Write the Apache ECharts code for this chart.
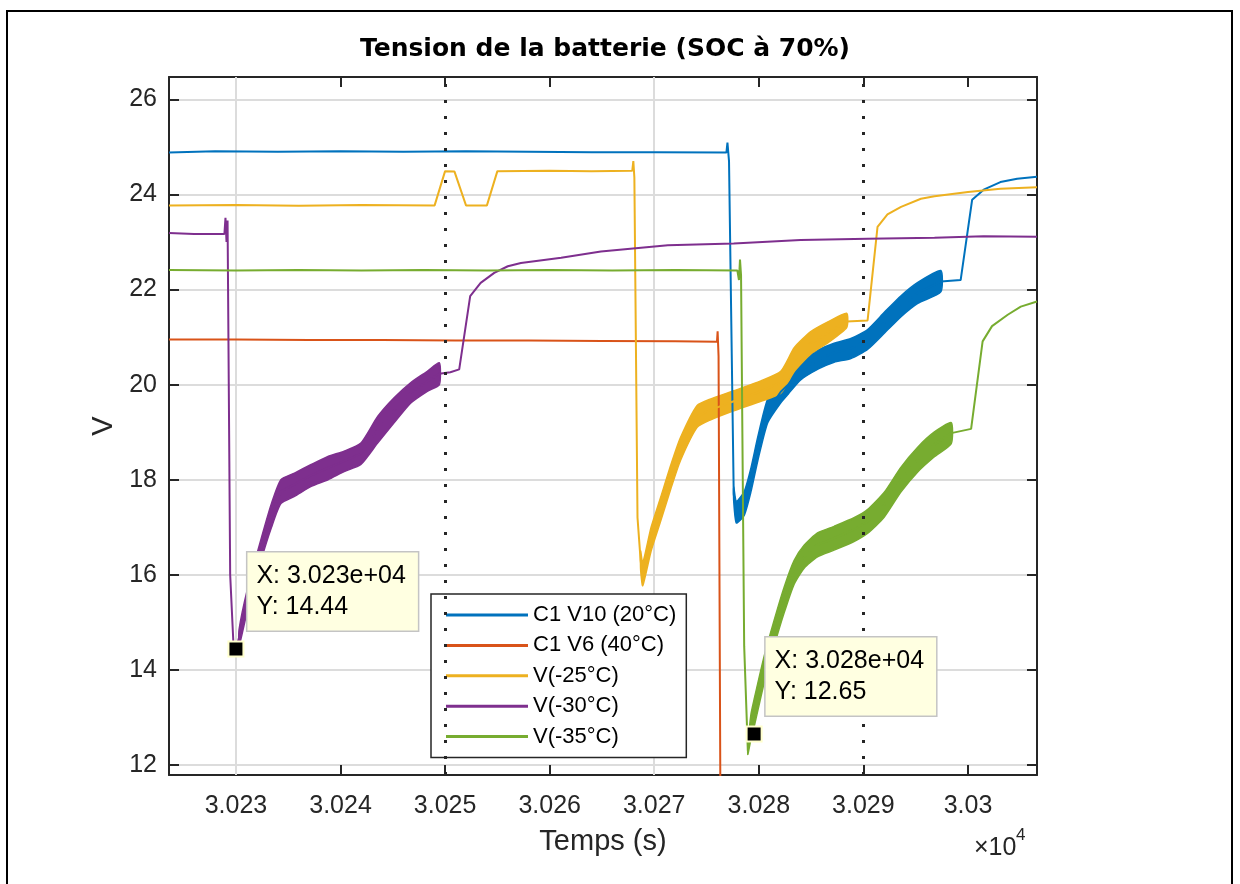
<!DOCTYPE html>
<html>
<head>
<meta charset="utf-8">
<title>Tension de la batterie (SOC à 70%)</title>
<script src="https://cdn.jsdelivr.net/npm/echarts@6/dist/echarts.min.js"></script>
<style>
  html, body { margin: 0; padding: 0; background: #fff; }
  #chart { width: 1240px; height: 884px; }
</style>
</head>
<body>
<div id="chart"></div>
<script>
// ---------- series meta ----------
const seriesNames  = ['C1 V10 (20°C)', 'C1 V6 (40°C)', 'V(-25°C)', 'V(-30°C)', 'V(-35°C)'];
const seriesColors = ['#0072BD', '#D95319', '#EDB120', '#7E2F8E', '#77AC30'];

// ---------- axes ----------
const xRange = [30223.6, 30306.6];
const yRange = [11.79, 26.47];
const xTickValues = [30230, 30240, 30250, 30260, 30270, 30280, 30290, 30300];
const yTickValues = [12, 14, 16, 18, 20, 22, 24, 26];

// vertical reference lines (s)
const guideSolidTimes  = [30230, 30270];
const guideDottedTimes = [30250, 30290];

// ---------- C1 V10 (20°C) ----------
const blueT = [30223.6, 30228, 30234, 30240, 30246, 30252, 30258, 30264, 30270, 30276.9, 30277.0, 30277.15,
  30277.6, 30277.85, 30278.6, 30279.25, 30279.9, 30280.85, 30282.1, 30282.8, 30284.0, 30285.7, 30287.2,
  30288.8, 30290.4, 30292.0, 30293.6, 30295.2, 30297.4, 30299.3, 30300.4, 30301.5, 30303.1, 30304.7, 30306.6];
const blueV = [24.88, 24.91, 24.90, 24.91, 24.90, 24.91, 24.90, 24.89, 24.89, 24.88, 25.09, 24.70,
  17.7, 17.3, 17.5, 18.0, 18.65, 19.45, 19.85, 20.0, 20.3, 20.53, 20.67,
  20.76, 20.95, 21.3, 21.65, 21.93, 22.17, 22.2, 23.89, 24.1, 24.26, 24.33, 24.37];
// ripple envelope while charging
const blueBandT  = [30277.6, 30277.85, 30278.6, 30279.25, 30279.9, 30280.85, 30282.1, 30282.8, 30284.0,
  30285.7, 30287.2, 30288.8, 30290.4, 30292.0, 30293.6, 30295.2, 30297.4];
const blueBandLo = [17.55, 17.09, 17.25, 17.75, 18.4, 19.2, 19.62, 19.8, 20.1, 20.33, 20.47, 20.55, 20.74, 21.08, 21.43, 21.71, 21.95];
const blueBandHi = [17.85, 17.55, 17.75, 18.25, 18.9, 19.7, 20.08, 20.22, 20.5, 20.73, 20.87, 20.97, 21.16, 21.52, 21.87, 22.15, 22.4];

// ---------- C1 V6 (40°C) ----------
const redT = [30223.6, 30230, 30237, 30244, 30251, 30258, 30265, 30272, 30276.0, 30276.06, 30276.15, 30276.35];
const redV = [20.95, 20.95, 20.94, 20.94, 20.93, 20.93, 20.92, 20.91, 20.90, 21.12, 20.6, 10.0];

// ---------- V(-25°C) ----------
const yellowT = [30223.6, 30230, 30236, 30242, 30249.0, 30250.0, 30250.9, 30252.0, 30254.0, 30255.0, 30260, 30264,
  30267.9, 30268.0, 30268.1, 30268.4, 30268.7, 30268.9, 30269.7, 30270.6, 30271.6, 30272.5, 30274.1, 30275.4,
  30277.6, 30280.2, 30282.1, 30283.4, 30285.0, 30286.6, 30288.4, 30290.4, 30291.35, 30292.3, 30293.6, 30295.5,
  30296.8, 30300.0, 30303.1, 30306.6];
const yellowV = [23.77, 23.78, 23.76, 23.78, 23.77, 24.49, 24.48, 23.77, 23.77, 24.49, 24.50, 24.49,
  24.50, 24.70, 24.35, 17.2, 16.3, 16.0, 16.74, 17.37, 18.07, 18.63, 19.33, 19.47,
  19.65, 19.86, 20.05, 20.53, 20.88, 21.09, 21.33, 21.35, 23.32, 23.58, 23.74, 23.91,
  23.96, 24.05, 24.12, 24.15];
const yellowBandT  = [30268.7, 30268.9, 30269.7, 30270.6, 30271.6, 30272.5, 30274.1, 30275.4, 30277.6, 30280.2,
  30282.1, 30283.4, 30285.0, 30286.6, 30288.4];
const yellowBandLo = [16.1, 15.77, 16.5, 17.12, 17.82, 18.4, 19.1, 19.26, 19.45, 19.65, 19.82, 20.28, 20.65, 20.88, 21.2];
const yellowBandHi = [16.5, 16.25, 17.0, 17.62, 18.32, 18.88, 19.56, 19.7, 19.87, 20.08, 20.28, 20.78, 21.12, 21.32, 21.5];

// ---------- V(-30°C) ----------
const purpleT = [30223.6, 30226, 30228.9, 30229.0, 30229.1, 30229.2, 30229.45, 30229.75, 30230.0, 30230.3,
  30231.1, 30232.4, 30233.4, 30234.3, 30235.6, 30237.2, 30238.8, 30240.35, 30241.95, 30243.55,
  30245.1, 30246.7, 30248.3, 30249.45, 30250.5, 30251.35, 30252.4, 30253.4, 30254.7, 30256.0,
  30257.25, 30261.1, 30264.9, 30271.3, 30277.6, 30284.0, 30290.4, 30296.8, 30301.5, 30306.6];
const purpleV = [23.19, 23.17, 23.17, 23.51, 23.0, 23.45, 16.0, 14.6, 14.44, 14.68,
  15.48, 16.53, 17.25, 17.75, 17.9, 18.09, 18.25, 18.39, 18.55, 19.05,
  19.46, 19.83, 20.07, 20.23, 20.26, 20.32, 21.86, 22.14, 22.35, 22.49,
  22.56, 22.67, 22.80, 22.93, 22.97, 23.04, 23.07, 23.09, 23.12, 23.11];
const purpleBandT  = [30230.3, 30231.1, 30232.4, 30233.4, 30234.3, 30235.6, 30237.2, 30238.8, 30240.35, 30241.95,
  30243.55, 30245.1, 30246.7, 30248.3, 30249.45];
const purpleBandLo = [14.5, 15.25, 16.3, 17.0, 17.5, 17.65, 17.86, 18.0, 18.17, 18.32, 18.77, 19.19, 19.61, 19.86, 20.0];
const purpleBandHi = [14.85, 15.7, 16.75, 17.5, 18.0, 18.14, 18.32, 18.49, 18.6, 18.77, 19.33, 19.72, 20.04, 20.28, 20.46];

// ---------- V(-35°C) ----------
const greenT = [30223.6, 30230, 30236, 30242, 30248, 30254, 30260, 30266, 30272, 30277.95, 30278.1, 30278.2,
  30278.3, 30278.6, 30278.95, 30279.25, 30279.55, 30280.5, 30281.46, 30282.42, 30283.37, 30284.33,
  30285.61, 30287.2, 30289.1, 30290.39, 30291.98, 30293.58, 30295.17, 30296.76, 30298.4, 30300.3,
  30301.4, 30302.3, 30303.8, 30305.05, 30306.6];
const greenV = [22.41, 22.40, 22.41, 22.40, 22.41, 22.40, 22.41, 22.40, 22.41, 22.40, 22.2, 22.63,
  22.3, 14.5, 12.3, 12.81, 13.09, 14.0, 14.77, 15.47, 16.04, 16.38,
  16.63, 16.77, 16.95, 17.12, 17.47, 18.0, 18.42, 18.74, 18.98, 19.07,
  20.91, 21.23, 21.47, 21.64, 21.75];
const greenBandT  = [30278.95, 30279.25, 30279.55, 30280.5, 30281.46, 30282.42, 30283.37, 30284.33, 30285.61,
  30287.2, 30289.1, 30290.39, 30291.98, 30293.58, 30295.17, 30296.76, 30298.4];
const greenBandLo = [12.22, 12.55, 12.8, 13.72, 14.5, 15.2, 15.8, 16.14, 16.38, 16.52, 16.7, 16.87, 17.21, 17.74, 18.16, 18.48, 18.76];
const greenBandHi = [12.4, 13.07, 13.38, 14.28, 15.04, 15.74, 16.3, 16.62, 16.88, 17.02, 17.2, 17.37, 17.73, 18.26, 18.68, 19.0, 19.2];

// ---------- data tips (series index, time, voltage) ----------
const tipSeries = [3, 4];
const tipTimes  = [30230.0, 30279.55];
const tipVolts  = [14.44, 12.65];

// ---------- helpers ----------
const FONT = 'Liberation Sans';
const INK = '#262626';
const zip = (t, v) => t.map((x, i) => [x, v[i]]);
const isTick = (list, v) => list.some(t => Math.abs(t - v) < 1e-6);
function fmtExp(x) {
  const [m, e] = x.toExponential(3).split('e');
  return m + 'e' + e[0] + e.slice(1).padStart(2, '0');
}

const curves = [
  { t: blueT,   v: blueV,   band: { t: blueBandT,   lo: blueBandLo,   hi: blueBandHi } },
  { t: redT,    v: redV,    band: null },
  { t: yellowT, v: yellowV, band: { t: yellowBandT, lo: yellowBandLo, hi: yellowBandHi } },
  { t: purpleT, v: purpleV, band: { t: purpleBandT, lo: purpleBandLo, hi: purpleBandHi } },
  { t: greenT,  v: greenV,  band: { t: greenBandT,  lo: greenBandLo,  hi: greenBandHi } }
];

// ripple envelope drawn as one filled polygon (upper edge forward, lower edge back)
function rippleSeries(name, color, band) {
  return {
    type: 'custom', name, silent: true, z: 2, clip: true,
    data: band.t.map((x, j) => [x, band.lo[j], band.hi[j]]),
    encode: { x: 0, y: [1, 2] },
    renderItem(params, api) {
      if (params.dataIndex !== 0) return null;
      const pts = [];
      for (let j = 0; j < band.t.length; j++) pts.push(api.coord([band.t[j], band.hi[j]]));
      for (let j = band.t.length - 1; j >= 0; j--) pts.push(api.coord([band.t[j], band.lo[j]]));
      return {
        type: 'polygon',
        shape: { points: pts, smooth: 0.2 },
        style: { fill: color, stroke: color, lineWidth: 1.5, lineJoin: 'round' }
      };
    }
  };
}

const series = [];
curves.forEach((c, i) => {
  const color = seriesColors[i];
  const main = {
    type: 'line', name: seriesNames[i], data: zip(c.t, c.v),
    symbol: 'none', clip: true, z: 2,
    lineStyle: { color, width: 2 }, itemStyle: { color },
    emphasis: { disabled: true }
  };
  const k = tipSeries.indexOf(i);
  if (k >= 0) {
    main.markPoint = {
      silent: true, animation: false,
      symbol: 'rect', symbolSize: 15,
      itemStyle: { color: '#000', borderColor: '#ffffcc', borderWidth: 2 },
      label: {
        show: true, position: [20, -88], align: 'left', verticalAlign: 'top',
        formatter: 'X: ' + fmtExp(tipTimes[k]) + '\nY: ' + tipVolts[k].toFixed(2),
        fontFamily: FONT, fontSize: 25, lineHeight: 31, color: '#000',
        backgroundColor: '#ffffe1', borderColor: '#c4c4c4', borderWidth: 1.5,
        padding: [8, 12, 8, 9]
      },
      data: [{ coord: [tipTimes[k], tipVolts[k]] }]
    };
  }
  if (i === 0) {
    // light reference lines under the curves
    main.markLine = {
      silent: true, animation: false, z: 1, symbol: ['none', 'none'],
      label: { show: false },
      lineStyle: { color: '#dcdcdc', width: 2, type: 'solid' },
      data: guideSolidTimes.map(x => ({ xAxis: x }))
    };
  }
  if (i === 4) {
    // dotted reference lines
    main.markLine = {
      silent: true, animation: false, z: 5, symbol: ['none', 'none'],
      label: { show: false },
      lineStyle: { color: INK, width: 3, type: [3, 13] },
      data: guideDottedTimes.map(x => ({ xAxis: x }))
    };
  }
  series.push(main);
  if (c.band) series.push(rippleSeries(seriesNames[i], color, c.band));
});

const axisLine = { show: true, onZero: false, lineStyle: { color: INK, width: 2 } };
const axisTick = { show: true, inside: true, length: 10, lineStyle: { color: INK, width: 2 } };

const option = {
  animation: false,
  backgroundColor: '#fff',
  title: {
    text: 'Tension de la batterie (SOC à 70%)',
    left: 605, top: 37, padding: 0, textAlign: 'center',
    textStyle: { fontFamily: 'DejaVu Sans', fontWeight: 'bold', fontSize: 25, color: '#000' }
  },
  grid: { left: 169, right: 203, top: 77, bottom: 109, containLabel: false },
  legend: {
    data: seriesNames, orient: 'vertical', left: 431, top: 594,
    padding: [10, 10, 10, 15], itemWidth: 82, itemHeight: 3, itemGap: 8.4,
    icon: 'rect',
    backgroundColor: '#fff', borderColor: INK, borderWidth: 1.5, borderRadius: 0,
    selectedMode: false,
    textStyle: { fontFamily: FONT, fontSize: 22, color: '#000' }
  },
  xAxis: [
    {
      type: 'value', position: 'bottom', min: xRange[0], max: xRange[1], minInterval: 10, maxInterval: 10,
      axisLine, axisTick,
      axisLabel: {
        margin: 19, fontFamily: FONT, fontSize: 25, color: INK,
        formatter: v => isTick(xTickValues, v) ? String(parseFloat((v / 1e4).toFixed(4))) : ''
      },
      splitLine: { show: false },
      name: 'Temps (s)', nameLocation: 'middle', nameGap: 52,
      nameTextStyle: { fontFamily: FONT, fontSize: 29, color: INK }
    },
    {
      type: 'value', position: 'top', min: xRange[0], max: xRange[1], minInterval: 10, maxInterval: 10,
      axisLine, axisTick, axisLabel: { show: false }, splitLine: { show: false }
    }
  ],
  yAxis: [
    {
      type: 'value', position: 'left', min: yRange[0], max: yRange[1], minInterval: 2, maxInterval: 2,
      axisLine, axisTick,
      axisLabel: {
        margin: 12, fontFamily: FONT, fontSize: 25, color: INK,
        formatter: v => isTick(yTickValues, v) ? String(Math.round(v)) : ''
      },
      splitLine: { show: true, lineStyle: { color: '#dcdcdc', width: 2 } },
      name: 'V', nameLocation: 'middle', nameGap: 40,
      nameTextStyle: { fontFamily: FONT, fontSize: 29, color: INK }
    },
    {
      type: 'value', position: 'right', min: yRange[0], max: yRange[1], minInterval: 2, maxInterval: 2,
      axisLine, axisTick, axisLabel: { show: false }, splitLine: { show: false }
    }
  ],
  graphic: [
    {
      type: 'rect', silent: true, z: 100,
      shape: { x: 7, y: 11, width: 1225, height: 900 },
      style: { fill: 'none', stroke: '#000', lineWidth: 2 }
    },
    {
      type: 'text', silent: true, x: 974, y: 848,
      style: { text: '×10', font: '25px "Liberation Sans"', fill: INK, align: 'left', verticalAlign: 'middle' }
    },
    {
      type: 'text', silent: true, x: 1016, y: 835,
      style: { text: '4', font: '17px "Liberation Sans"', fill: INK, align: 'left', verticalAlign: 'middle' }
    }
  ],
  series
};

const chart = echarts.init(document.getElementById('chart'), null, { renderer: 'canvas' });
chart.setOption(option);
</script>
</body>
</html>
